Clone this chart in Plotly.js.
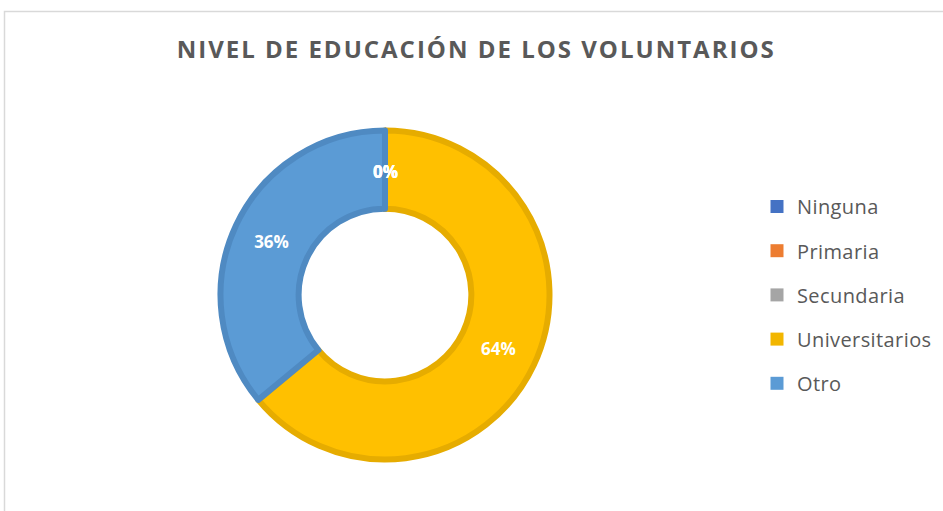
<!DOCTYPE html>
<html>
<head>
<meta charset="utf-8">
<script src="https://cdn.plot.ly/plotly-3.0.1.min.js"></script>
<style>
html, body { margin: 0; padding: 0; background: #fff; }
#chart { width: 943px; height: 511px; }
.gtitle { letter-spacing: 2.0px; }
.legendtext { letter-spacing: 0.4px; }
</style>
</head>
<body>
<div id="chart"></div>
<script>
// ---- data ----
var categories = ["Ninguna", "Primaria", "Secundaria", "Universitarios", "Otro"];
var percentValues = [0, 0, 0, 64, 36];
var titleText = "NIVEL DE EDUCACIÓN DE LOS VOLUNTARIOS";

// ---- styles ----
var fillColors = ["#4472C4", "#ED7D31", "#A5A5A5", "#FFC000", "#5B9BD5"];
var edgeColors = ["#3A63AE", "#D56D27", "#909090", "#E6AC00", "#4F8AC2"];
var legendColors = ["#4472C4", "#ED7D31", "#A5A5A5", "#F2B600", "#5B9BD5"];

var W = 943, H = 511;
var cx = 385, cy = 295, rOuter = 164.5, holeFrac = 0.525;
var labelFont = { family: "Open Sans, sans-serif", size: 17, color: "#ffffff", weight: "bold" };

var pieTrace = {
  type: "pie",
  labels: categories,
  values: percentValues,
  sort: false,
  direction: "clockwise",
  rotation: 0,
  hole: holeFrac,
  showlegend: false,
  textinfo: "percent",
  texttemplate: "%{percent:.0%}",
  textposition: "inside",
  insidetextorientation: "horizontal",
  textfont: labelFont,
  marker: { colors: fillColors, line: { color: edgeColors, width: 6 } },
  hoverinfo: "none",
  domain: {
    x: [(cx - rOuter) / W, (cx + rOuter) / W],
    y: [(H - cy - rOuter) / H, (H - cy + rOuter) / H]
  }
};

var legendTraces = categories.map(function (name, i) {
  return {
    type: "scatter",
    mode: "markers",
    x: [null],
    y: [null],
    name: name,
    legendgroup: "g" + i,
    marker: { symbol: "square", size: 13, color: legendColors[i], line: { width: 0 } },
    hoverinfo: "none"
  };
});

// labels for zero-size slices (Plotly does not draw text on empty slices)
var total = percentValues.reduce(function (a, b) { return a + b; }, 0);
var rMid = (rOuter + rOuter * holeFrac) / 2 - 2;
var annotations = [];
var cum = 0;
percentValues.forEach(function (v) {
  if (v === 0) {
    var ang = (cum / total) * 2 * Math.PI;
    var px = cx + rMid * Math.sin(ang);
    var py = cy - rMid * Math.cos(ang);
    annotations.push({
      xref: "paper", yref: "paper",
      x: px / W, y: 1 - py / H,
      xanchor: "center", yanchor: "middle",
      text: Math.round(100 * v / total) + "%",
      showarrow: false,
      font: labelFont
    });
  }
  cum += v;
});

var layout = {
  width: W,
  height: H,
  margin: { l: 0, r: 0, t: 0, b: 0 },
  paper_bgcolor: "#ffffff",
  plot_bgcolor: "rgba(0,0,0,0)",
  title: {
    text: "<b>" + titleText + "</b>",
    font: { family: "Open Sans, sans-serif", size: 24, color: "#595959" },
    x: 0.505,
    xanchor: "center",
    y: 1 - 50 / H,
    yanchor: "middle"
  },
  xaxis: { visible: false },
  yaxis: { visible: false },
  showlegend: true,
  legend: {
    x: 757 / W,
    xanchor: "left",
    y: 1 - 187 / H,
    yanchor: "top",
    traceorder: "grouped",
    tracegroupgap: 15.2,
    font: { family: "Open Sans, sans-serif", size: 20, color: "#595959" },
    bgcolor: "rgba(0,0,0,0)"
  },
  annotations: annotations,
  uniformtext: { minsize: 17, mode: "show" },
  shapes: [{
    type: "rect",
    xref: "paper", yref: "paper",
    x0: 4.5 / W, x1: 1.02,
    y0: -0.02, y1: 1 - 11.5 / H,
    line: { color: "#D9D9D9", width: 1.5 },
    fillcolor: "rgba(0,0,0,0)",
    layer: "below"
  }]
};

Plotly.newPlot("chart", [pieTrace].concat(legendTraces), layout, { displayModeBar: false, staticPlot: true });
</script>
</body>
</html>
